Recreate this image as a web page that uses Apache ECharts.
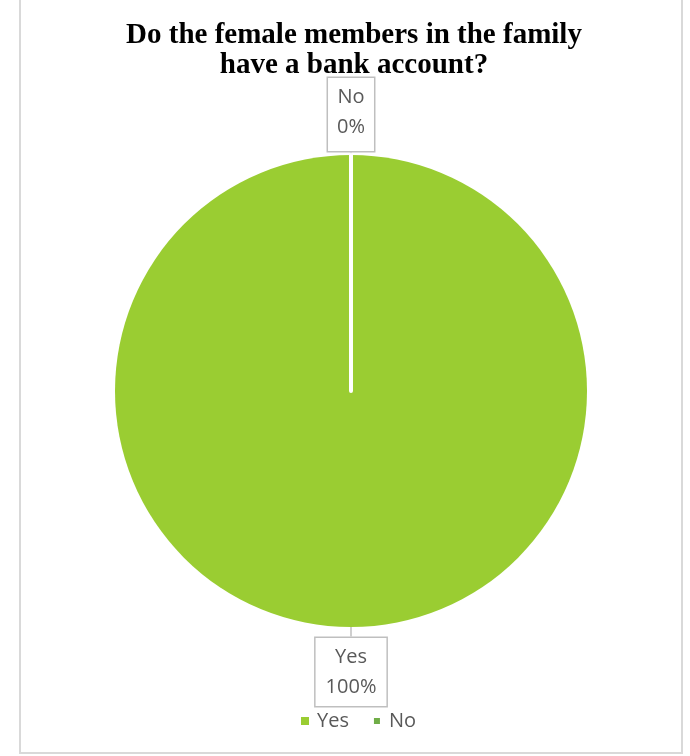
<!DOCTYPE html>
<html>
<head>
<meta charset="utf-8">
<script src="https://cdn.jsdelivr.net/npm/echarts@6/dist/echarts.min.js"></script>
<style>
html,body{margin:0;padding:0;background:#fff;}
#chart{width:690px;height:756px;}
</style>
</head>
<body>
<div id="chart"></div>
<script>
const titleText = 'Do the female members in the family\nhave a bank account?';
const categories = ['Yes', 'No'];
const values = [100, 0];
const colors = ['#9ACD32', '#70AD47'];

const chart = echarts.init(document.getElementById('chart'), null, {renderer: 'canvas'});

const seriesData = categories.map((c, i) => ({
  name: c,
  value: values[i],
  itemStyle: i === 1
    ? {color: colors[i], borderColor: '#ffffff', borderWidth: 4}
    : {color: colors[i], borderWidth: 0},
  label: i === 1 ? {padding: [4, 9, 9, 9]} : {padding: [4, 10, 4, 10]}
}));

chart.setOption({
  animation: false,
  backgroundColor: '#ffffff',
  graphic: [{
    type: 'rect',
    silent: true,
    shape: {x: 20, y: -10, width: 662, height: 763},
    style: {fill: 'none', stroke: '#d9d9d9', lineWidth: 2}
  }],
  title: {
    text: titleText,
    left: 349,
    top: 16,
    textAlign: 'center',
    textStyle: {
      fontFamily: 'Liberation Serif',
      fontWeight: 'bold',
      fontSize: 29,
      lineHeight: 30,
      color: '#000000'
    }
  },
  legend: {
    data: categories,
    left: 296,
    top: 706,
    icon: 'rect',
    itemWidth: 8,
    itemHeight: 8,
    itemGap: 23,
    textStyle: {
      fontFamily: 'Open Sans',
      fontSize: 20,
      color: '#595959',
      padding: [0, 0, 0, 3]
    }
  },
  series: [{
    type: 'pie',
    center: [351, 391],
    radius: 236,
    startAngle: 90,
    clockwise: true,
    avoidLabelOverlap: false,
    color: colors,
    data: seriesData,
    label: {
      show: true,
      position: 'outside',
      formatter: '{b}\n{d}%',
      fontFamily: 'Open Sans',
      fontSize: 20,
      lineHeight: 30,
      color: '#595959',
      backgroundColor: '#ffffff',
      borderColor: '#bfbfbf',
      borderWidth: 1.5
    },
    labelLine: {
      show: true,
      length: 6,
      length2: 0,
      lineStyle: {color: '#bfbfbf', width: 1.5}
    },
    labelLayout: function (params) {
      const pts = params.labelLinePoints;
      if (!pts) return {};
      const a = pts[0];
      const up = pts[1][1] < a[1];
      const gap = up ? 4 : 11;
      return {
        x: a[0],
        y: up ? a[1] - gap : a[1] + gap,
        align: 'center',
        verticalAlign: up ? 'bottom' : 'top'
      };
    },
    emphasis: {disabled: true}
  }]
});
</script>
</body>
</html>
